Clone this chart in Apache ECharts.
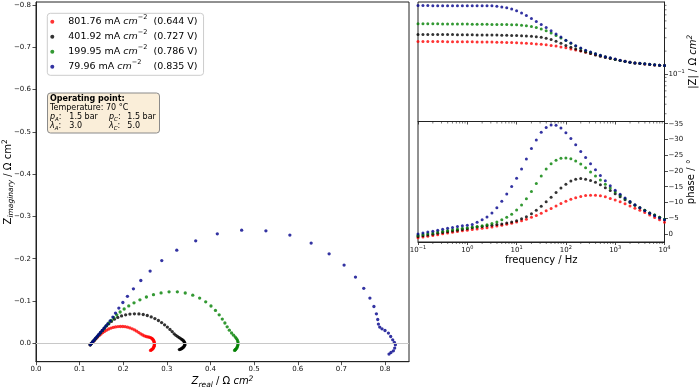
<!DOCTYPE html>
<html><head><meta charset="utf-8">
<script src="https://cdn.jsdelivr.net/npm/echarts@6/dist/echarts.min.js"></script>
<style>html,body{margin:0;padding:0;background:#fff}#c{width:700px;height:388px}</style>
</head><body><div id="c"></div>
<script>
const currentDensity = ['801.76', '401.92', '199.95', '79.96'];
const cellVoltage = ['0.644', '0.727', '0.786', '0.835'];
const seriesColors = ['#ff0000', '#000000', '#008000', '#00008b'];

const frequency = [0.1,0.126,0.158,0.2,0.251,0.316,0.398,0.501,0.631,0.794,1,1.26,1.58,2,2.51,3.16,3.98,5.01,6.31,7.94,10,12.6,15.8,20,25.1,31.6,39.8,50.1,63.1,79.4,100,126,158,200,251,316,398,501,631,794,1000,1259,1585,1995,2512,3162,3981,5012,6310,7943,10000];

const zRealRed = [0.1243,0.1265,0.1291,0.1318,0.1348,0.1380,0.1414,0.1451,0.1490,0.1531,0.1574,0.1620,0.1668,0.1719,0.1771,0.1824,0.1879,0.1934,0.1989,0.2043,0.2098,0.2153,0.2206,0.2259,0.2309,0.2357,0.2403,0.2446,0.2487,0.2526,0.2563,0.2595,0.2622,0.2645,0.2664,0.2680,0.2691,0.2700,0.2707,0.2712,0.2714,0.2714,0.2712,0.2707,0.2700,0.2691,0.2680,0.2666,0.2652,0.2638,0.2625];
const zImagRed = [0.0035,0.0009,-0.0019,-0.0050,-0.0083,-0.0116,-0.0151,-0.0187,-0.0220,-0.0253,-0.0284,-0.0312,-0.0338,-0.0359,-0.0376,-0.0388,-0.0395,-0.0397,-0.0397,-0.0392,-0.0381,-0.0364,-0.0343,-0.0317,-0.0286,-0.0253,-0.0222,-0.0196,-0.0175,-0.0161,-0.0151,-0.0144,-0.0135,-0.0123,-0.0109,-0.0092,-0.0073,-0.0054,-0.0035,-0.0014,0.0007,0.0028,0.0050,0.0071,0.0090,0.0109,0.0125,0.0139,0.0151,0.0161,0.0168];

const zRealBlack = [0.1243,0.1268,0.1297,0.1330,0.1364,0.1400,0.1439,0.1481,0.1524,0.1570,0.1618,0.1668,0.1728,0.1796,0.1874,0.1961,0.2055,0.2153,0.2256,0.2359,0.2458,0.2551,0.2641,0.2725,0.2806,0.2879,0.2947,0.3011,0.3071,0.3121,0.3167,0.3208,0.3247,0.3284,0.3316,0.3343,0.3366,0.3384,0.3398,0.3407,0.3412,0.3412,0.3407,0.3398,0.3387,0.3373,0.3357,0.3341,0.3323,0.3304,0.3286];
const zImagBlack = [0.0035,0.0005,-0.0031,-0.0069,-0.0109,-0.0154,-0.0201,-0.0251,-0.0305,-0.0359,-0.0414,-0.0461,-0.0518,-0.0570,-0.0612,-0.0648,-0.0674,-0.0690,-0.0697,-0.0695,-0.0681,-0.0657,-0.0624,-0.0584,-0.0539,-0.0489,-0.0437,-0.0383,-0.0329,-0.0277,-0.0225,-0.0189,-0.0158,-0.0132,-0.0111,-0.0092,-0.0073,-0.0054,-0.0035,-0.0014,0.0007,0.0028,0.0047,0.0066,0.0083,0.0097,0.0111,0.0123,0.0132,0.0142,0.0149];

const zRealGreen = [0.1243,0.1268,0.1297,0.1330,0.1364,0.1400,0.1439,0.1481,0.1524,0.1570,0.1618,0.1668,0.1723,0.1783,0.1851,0.1929,0.2021,0.2126,0.2247,0.2382,0.2531,0.2693,0.2867,0.3050,0.3240,0.3421,0.3593,0.3751,0.3890,0.4011,0.4114,0.4199,0.4270,0.4330,0.4382,0.4432,0.4483,0.4529,0.4568,0.4595,0.4616,0.4627,0.4632,0.4629,0.4622,0.4613,0.4602,0.4588,0.4574,0.4563,0.4552];
const zImagGreen = [0.0035,0.0005,-0.0031,-0.0069,-0.0109,-0.0154,-0.0201,-0.0251,-0.0305,-0.0362,-0.0421,-0.0482,-0.0544,-0.0608,-0.0674,-0.0740,-0.0811,-0.0884,-0.0957,-0.1028,-0.1095,-0.1149,-0.1192,-0.1217,-0.1217,-0.1189,-0.1139,-0.1069,-0.0981,-0.0882,-0.0778,-0.0674,-0.0574,-0.0480,-0.0390,-0.0310,-0.0244,-0.0191,-0.0147,-0.0111,-0.0076,-0.0040,-0.0005,0.0028,0.0059,0.0085,0.0109,0.0130,0.0147,0.0158,0.0168];

const zRealBlue = [0.1243,0.1265,0.1293,0.1320,0.1350,0.1380,0.1412,0.1446,0.1481,0.1517,0.1556,0.1597,0.1643,0.1700,0.1762,0.1822,0.1899,0.1991,0.2096,0.2233,0.2403,0.2616,0.2883,0.3227,0.3661,0.4156,0.4714,0.5270,0.5819,0.6307,0.6719,0.7062,0.7323,0.7513,0.7654,0.7746,0.7803,0.7833,0.7849,0.7879,0.7931,0.8000,0.8078,0.8130,0.8176,0.8215,0.8238,0.8222,0.8192,0.8137,0.8092];
const zImagBlue = [0.0035,0.0007,-0.0026,-0.0059,-0.0097,-0.0135,-0.0175,-0.0217,-0.0260,-0.0305,-0.0352,-0.0404,-0.0461,-0.0532,-0.0619,-0.0714,-0.0832,-0.0965,-0.1111,-0.1288,-0.1485,-0.1707,-0.1957,-0.2203,-0.2423,-0.2589,-0.2676,-0.2660,-0.2558,-0.2369,-0.2116,-0.1849,-0.1565,-0.1300,-0.1069,-0.0870,-0.0697,-0.0563,-0.0454,-0.0383,-0.0343,-0.0303,-0.0241,-0.0161,-0.0083,-0.0019,0.0035,0.0113,0.0177,0.0217,0.0255];

const magRed = [0.268,0.268,0.267,0.267,0.267,0.267,0.266,0.266,0.266,0.265,0.265,0.265,0.264,0.264,0.263,0.263,0.262,0.261,0.260,0.259,0.258,0.256,0.254,0.252,0.249,0.246,0.242,0.238,0.233,0.227,0.221,0.214,0.207,0.200,0.193,0.186,0.179,0.173,0.167,0.161,0.156,0.151,0.147,0.143,0.140,0.137,0.135,0.133,0.131,0.130,0.129];
const magBlack = [0.332,0.332,0.331,0.331,0.331,0.330,0.330,0.330,0.329,0.329,0.328,0.328,0.327,0.327,0.326,0.326,0.325,0.324,0.323,0.322,0.321,0.319,0.317,0.314,0.310,0.304,0.296,0.285,0.270,0.254,0.238,0.225,0.213,0.203,0.194,0.186,0.178,0.171,0.165,0.160,0.155,0.150,0.146,0.143,0.140,0.137,0.135,0.133,0.131,0.130,0.129];
const magGreen = [0.458,0.458,0.457,0.457,0.457,0.456,0.456,0.455,0.455,0.454,0.454,0.453,0.452,0.451,0.450,0.449,0.448,0.447,0.447,0.446,0.443,0.438,0.431,0.421,0.408,0.392,0.371,0.347,0.322,0.298,0.276,0.254,0.234,0.217,0.203,0.193,0.184,0.176,0.169,0.162,0.156,0.151,0.147,0.143,0.140,0.138,0.136,0.134,0.132,0.130,0.129];
const magBlue = [0.794,0.794,0.794,0.793,0.793,0.793,0.793,0.792,0.792,0.792,0.791,0.791,0.791,0.790,0.790,0.788,0.779,0.763,0.744,0.718,0.680,0.635,0.587,0.539,0.492,0.448,0.408,0.370,0.336,0.306,0.279,0.255,0.236,0.219,0.206,0.195,0.185,0.177,0.169,0.163,0.157,0.152,0.147,0.143,0.140,0.138,0.136,0.134,0.132,0.130,0.129];

const phaseRed = [1.2,0.95,0.7,0.45,0.2,-0.05,-0.3,-0.55,-0.8,-1.0,-1.2,-1.4,-1.6,-1.8,-2.0,-2.2,-2.5,-2.8,-3.1,-3.4,-3.8,-4.2,-4.7,-5.3,-5.9,-6.6,-7.4,-8.1,-8.9,-9.7,-10.4,-11.0,-11.5,-11.9,-12.2,-12.3,-12.3,-12.1,-11.8,-11.3,-10.8,-10.2,-9.6,-8.9,-8.2,-7.5,-6.8,-6.0,-5.2,-4.5,-3.7];
const phaseBlack = [0.8,0.55,0.3,0.05,-0.2,-0.45,-0.7,-0.95,-1.2,-1.45,-1.7,-1.95,-2.2,-2.4,-2.6,-2.8,-3.0,-3.2,-3.5,-3.8,-4.2,-4.8,-5.5,-6.4,-7.5,-8.8,-10.2,-11.7,-13.2,-14.6,-15.8,-16.8,-17.4,-17.6,-17.4,-17.0,-16.4,-15.6,-14.7,-13.8,-12.8,-11.8,-10.9,-10.0,-9.1,-8.3,-7.5,-6.7,-6.0,-5.3,-4.6];
const phaseGreen = [0.4,0.15,-0.1,-0.35,-0.6,-0.85,-1.1,-1.35,-1.6,-1.8,-2.0,-2.2,-2.4,-2.6,-2.9,-3.3,-3.8,-4.5,-5.3,-6.3,-7.6,-9.2,-11.2,-13.5,-16.0,-18.4,-20.6,-22.3,-23.4,-24.0,-24.1,-23.9,-23.2,-22.2,-21.0,-19.7,-18.4,-17.1,-15.8,-14.6,-13.4,-12.3,-11.2,-10.2,-9.2,-8.3,-7.5,-6.7,-6.0,-5.3,-4.7];
const phaseBlue = [0.0,-0.3,-0.6,-0.9,-1.2,-1.5,-1.8,-2.1,-2.4,-2.6,-2.8,-3.0,-3.7,-4.5,-5.4,-6.7,-8.3,-10.4,-12.7,-15.1,-17.7,-20.6,-23.8,-27.1,-29.8,-32.3,-33.8,-34.6,-34.5,-33.6,-32.1,-30.3,-28.3,-26.2,-24.3,-22.3,-20.4,-18.6,-16.9,-15.3,-13.9,-12.6,-11.4,-10.3,-9.3,-8.3,-7.4,-6.6,-5.8,-5.1,-4.5];

const minorFreqTicks = [0.2,0.3,0.4,0.5,0.6,0.7,0.8,0.9,2,3,4,5,6,7,8,9,20,30,40,50,60,70,80,90,200,300,400,500,600,700,800,900,2000,3000,4000,5000,6000,7000,8000,9000];
const minorMagTicks = [0.03,0.04,0.05,0.06,0.07,0.08,0.09,0.2,0.3,0.4,0.5,0.6,0.7,0.8];

const FONT = '"DejaVu Sans", sans-serif';
const INK = '#222';
const names = currentDensity.map((c, i) => c + ' mA cm-2 (' + cellVoltage[i] + ' V)');
const nyq = [[zRealRed, zImagRed], [zRealBlack, zImagBlack], [zRealGreen, zImagGreen], [zRealBlue, zImagBlue]];
const mags = [magRed, magBlack, magGreen, magBlue];
const phases = [phaseRed, phaseBlack, phaseGreen, phaseBlue];

function minusStr(v, d) { const s = Math.abs(v).toFixed(d); return (v < -1e-9 ? '−' : '') + s; }
function isMult(v, step) { return Math.abs(v / step - Math.round(v / step)) < 1e-6; }

const titleRich = {
  t: {fontFamily: FONT, fontSize: 10, color: '#000', lineHeight: 14},
  i: {fontFamily: FONT, fontSize: 10, fontStyle: 'italic', color: '#000', lineHeight: 14},
  sb: {fontFamily: FONT, fontSize: 7.5, fontStyle: 'italic', color: '#000', lineHeight: 8, verticalAlign: 'bottom'},
  sp: {fontFamily: FONT, fontSize: 7.5, fontStyle: 'italic', color: '#000', lineHeight: 8, verticalAlign: 'top'},
  su: {fontFamily: FONT, fontSize: 7.5, color: '#000', lineHeight: 8, verticalAlign: 'top'}
};
const powRich = {
  b: {fontFamily: FONT, fontSize: 7, color: '#111', lineHeight: 10},
  s: {fontFamily: FONT, fontSize: 5, color: '#111', lineHeight: 6, verticalAlign: 'top'}
};
function powLabel(v) {
  const e = Math.round(Math.log10(v));
  if (Math.abs(Math.log10(v) - e) > 1e-4) return '';
  const es = e < 0 ? '−' + Math.abs(e) : String(e);
  return '{b|10}{s|' + es + '}';
}

const lineSt = {color: INK, width: 1};
const tickSt = {length: 3.5, lineStyle: {color: INK, width: 0.8}};

const series = [];
names.forEach((n, k) => {
  const s = {
    type: 'scatter', name: n, xAxisIndex: 0, yAxisIndex: 0, symbolSize: 3.3,
    itemStyle: {color: seriesColors[k]},
    data: nyq[k][0].map((x, i) => [x, nyq[k][1][i]])
  };
  if (k === 0) {
    s.markLine = {silent: true, symbol: ['none', 'none'], label: {show: false}, animation: false,
      lineStyle: {color: '#c8c8c8', width: 1, type: 'solid'}, data: [{yAxis: 0}]};
  }
  series.push(s);
});
names.forEach((n, k) => series.push({
  type: 'scatter', name: n, xAxisIndex: 1, yAxisIndex: 1, symbolSize: 3, itemStyle: {color: seriesColors[k]},
  data: frequency.map((f, i) => [f, mags[k][i]])
}));
names.forEach((n, k) => series.push({
  type: 'scatter', name: n, xAxisIndex: 2, yAxisIndex: 2, symbolSize: 3, itemStyle: {color: seriesColors[k]},
  data: frequency.map((f, i) => [f, phases[k][i]])
}));
series.push({
  type: 'custom', xAxisIndex: 2, yAxisIndex: 2, silent: true, clip: false, z: 5,
  data: minorFreqTicks.map(f => [f, 0]), encode: {x: 0, y: 1},
  renderItem: (params, api) => {
    const x = api.coord([api.value(0), 0])[0];
    const cs = params.coordSys; const b = cs.y + cs.height; const t = cs.y;
    return {type: 'group', children: [
      {type: 'line', shape: {x1: x, y1: b, x2: x, y2: b + 2}, style: {stroke: INK, lineWidth: 0.6}},
      {type: 'line', shape: {x1: x, y1: t, x2: x, y2: t + 2}, style: {stroke: INK, lineWidth: 0.6}}
    ]};
  }
});
series.push({
  type: 'custom', xAxisIndex: 1, yAxisIndex: 1, silent: true, clip: false, z: 5,
  data: minorMagTicks.map(v => [10000, v]), encode: {x: 0, y: 1},
  renderItem: (params, api) => {
    const y = api.coord([api.value(0), api.value(1)])[1];
    const cs = params.coordSys; const r = cs.x + cs.width;
    return {type: 'line', shape: {x1: r, y1: y, x2: r + 2, y2: y}, style: {stroke: INK, lineWidth: 0.6}};
  }
});

const boxRich = {
  t: {fontFamily: FONT, fontSize: 8, color: '#000', lineHeight: 10},
  i: {fontFamily: FONT, fontSize: 8, fontStyle: 'italic', color: '#000', lineHeight: 10},
  s: {fontFamily: FONT, fontSize: 5.5, fontStyle: 'italic', color: '#000', lineHeight: 6, verticalAlign: 'bottom'}
};
function boxText(x, y, text, extra) {
  return {type: 'text', x: x, y: y, z: 10, style: Object.assign({text: text, rich: boxRich, fontFamily: FONT, fontSize: 8, fill: '#000', align: 'left', verticalAlign: 'middle'}, extra || {})};
}

const gridBase = {show: true, borderColor: INK, borderWidth: 1, backgroundColor: 'transparent', containLabel: false, outerBoundsMode: 'none'};
const option = {
  animation: false,
  backgroundColor: '#fff',
  textStyle: {fontFamily: FONT},
  grid: [
    Object.assign({left: 36, top: 2, width: 373, height: 359.7}, gridBase),
    Object.assign({left: 418, top: 2, width: 246.5, height: 119.5}, gridBase),
    Object.assign({left: 418, top: 121.5, width: 246.5, height: 120.5}, gridBase)
  ],
  legend: {
    data: names, orient: 'vertical', left: 47.3, top: 13.3, icon: 'circle', itemWidth: 22, itemHeight: 4, itemGap: 0,
    padding: [1, 6, 1, 3], backgroundColor: '#fff', borderColor: '#cccccc', borderWidth: 1, borderRadius: 3,
    selectedMode: false,
    textStyle: {fontFamily: FONT, fontSize: 9.5, color: '#000', lineHeight: 15, rich: {
      t: {fontFamily: FONT, fontSize: 9.5, color: '#000', lineHeight: 15},
      i: {fontFamily: FONT, fontSize: 9.5, fontStyle: 'italic', color: '#000', lineHeight: 15},
      s: {fontFamily: FONT, fontSize: 6.5, color: '#000', lineHeight: 7, verticalAlign: 'top'}
    }},
    formatter: n => {
      const k = names.indexOf(n);
      const gap = k === 3 ? '    ' : '  ';
      return '{t|' + currentDensity[k] + ' mA }{i|cm}{s|−2}{t|' + gap + '(' + cellVoltage[k] + ' V)}';
    }
  },
  xAxis: [
    {gridIndex: 0, type: 'value', min: 0, max: 0.855, splitNumber: 8, splitLine: {show: false},
     axisLine: {show: true, onZero: false, lineStyle: lineSt}, axisTick: tickSt,
     axisLabel: {fontFamily: FONT, fontSize: 7, color: '#111', margin: 4, showMaxLabel: false,
       formatter: v => isMult(v, 0.1) ? v.toFixed(1) : ''},
     name: '{i|Z}{sb|real}{t| / Ω }{i|cm}{sp|2}', nameLocation: 'middle', nameGap: 13, nameMoveOverlap: false,
     nameTextStyle: {fontFamily: FONT, fontSize: 10, color: '#000', rich: titleRich}},
    {gridIndex: 1, type: 'log', logBase: 10, min: 0.1, max: 10000, splitLine: {show: false},
     axisLine: {show: true, onZero: false, lineStyle: lineSt}, axisTick: {length: 3, lineStyle: {color: INK, width: 0.8}},
     axisLabel: {show: false}},
    {gridIndex: 2, type: 'log', logBase: 10, min: 0.1, max: 10000, splitLine: {show: false},
     axisLine: {show: true, onZero: false, lineStyle: lineSt}, axisTick: {length: 3, lineStyle: {color: INK, width: 0.8}},
     axisLabel: {fontFamily: FONT, fontSize: 7, color: '#111', margin: 3, formatter: powLabel, rich: powRich},
     name: 'frequency / Hz', nameLocation: 'middle', nameGap: 13,
     nameTextStyle: {fontFamily: FONT, fontSize: 10, color: '#000'}}
  ],
  yAxis: [
    {gridIndex: 0, type: 'value', inverse: true, min: -0.807, max: 0.0435, splitNumber: 8, splitLine: {show: false},
     axisLine: {show: true, onZero: false, lineStyle: lineSt}, axisTick: tickSt,
     axisLabel: {fontFamily: FONT, fontSize: 7, color: '#111', margin: 5, showMinLabel: false, showMaxLabel: false,
       formatter: v => isMult(v, 0.1) ? minusStr(v, 1) : ''},
     name: '{t|Z}{sb|imaginary}{t| / Ω cm}{su|2}', nameLocation: 'middle', nameGap: 21, nameRotate: 90, nameMoveOverlap: false,
     nameTextStyle: {fontFamily: FONT, fontSize: 10, color: '#000', rich: titleRich}},
    {gridIndex: 1, type: 'log', logBase: 10, position: 'right', min: 0.0237, max: 0.886, splitLine: {show: false},
     axisLine: {show: true, onZero: false, lineStyle: lineSt}, axisTick: tickSt,
     axisLabel: {fontFamily: FONT, fontSize: 7, color: '#111', margin: 4, showMinLabel: false, showMaxLabel: false,
       formatter: v => powLabel(v), rich: powRich},
     name: '{t||Z| / Ω }{i|cm}{sp|2}', nameLocation: 'middle', nameGap: 22, nameRotate: 90, nameMoveOverlap: false,
     nameTextStyle: {fontFamily: FONT, fontSize: 10, color: '#000', rich: titleRich}},
    {gridIndex: 2, type: 'value', position: 'right', inverse: true, min: -35.7, max: 2.54, splitNumber: 8, splitLine: {show: false},
     axisLine: {show: true, onZero: false, lineStyle: lineSt}, axisTick: tickSt,
     axisLabel: {fontFamily: FONT, fontSize: 7, color: '#111', margin: 4, showMinLabel: false, showMaxLabel: false,
       formatter: v => isMult(v, 5) ? minusStr(v, 0) : ''},
     name: 'phase / °', nameLocation: 'middle', nameGap: 22, nameRotate: 90, nameMoveOverlap: false,
     nameTextStyle: {fontFamily: FONT, fontSize: 10, color: '#000'}}
  ],
  graphic: [
    {type: 'rect', x: 47.5, y: 93, z: 9, shape: {width: 112, height: 40, r: 3}, style: {fill: '#faeed9', stroke: '#8a8a8a', lineWidth: 1}},
    boxText(50, 99, 'Operating point:', {fontWeight: 'bold'}),
    boxText(50, 108, 'Temperature: 70 °C'),
    boxText(50, 117.3, '{i|p}{s|A}{t|:}'),
    boxText(69.3, 117.3, '1.5 bar'),
    boxText(109, 117.3, '{i|p}{s|C}{t|:}'),
    boxText(127.3, 117.3, '1.5 bar'),
    boxText(50, 126.3, '{i|λ}{s|A}{t|:}'),
    boxText(69.3, 126.3, '3.0'),
    boxText(109, 126.3, '{i|λ}{s|C}{t|:}'),
    boxText(127.3, 126.3, '5.0')
  ],
  series: series
};
const chart = echarts.init(document.getElementById('c'), null, {renderer: 'canvas'});
chart.setOption(option);
</script></body></html>
